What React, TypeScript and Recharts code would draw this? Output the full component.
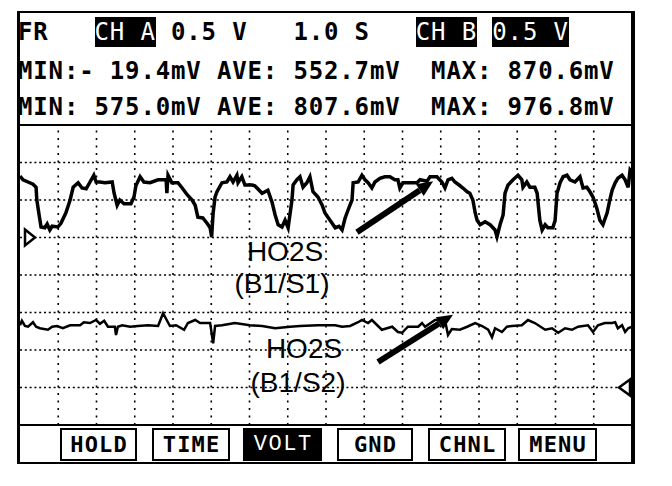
import { LineChart, Line, XAxis, YAxis, ReferenceLine, ReferenceDot } from 'recharts';

// channel A: HO2S (B1/S1), [time s, volts]
const chA: [number, number][] = [
  [0, 0.82], [0.08, 0.77], [0.21, 0.74], [0.34, 0.71], [0.42, 0.67], [0.44, 0.5], [0.5, 0.3], [0.55, 0.14],
  [0.65, 0.13], [0.71, 0.18], [0.78, 0.1], [0.84, 0.15], [0.99, 0.14], [1.07, 0.19], [1.2, 0.33], [1.31, 0.5],
  [1.39, 0.67], [1.52, 0.73], [1.62, 0.66], [1.73, 0.65], [1.83, 0.74], [1.93, 0.83], [1.99, 0.74], [2.09, 0.74],
  [2.22, 0.73], [2.41, 0.74], [2.46, 0.59], [2.54, 0.43], [2.61, 0.5], [2.72, 0.45], [2.9, 0.45], [2.98, 0.54],
  [3.03, 0.69], [3.14, 0.81], [3.24, 0.74], [3.4, 0.73], [3.61, 0.77], [3.82, 0.77], [3.84, 0.59], [3.87, 0.83],
  [3.97, 0.73], [4.13, 0.73], [4.24, 0.66], [4.37, 0.57], [4.5, 0.5], [4.58, 0.43], [4.65, 0.27], [4.78, 0.26],
  [4.89, 0.19], [4.97, 0.13], [5.01, 0.01], [5.05, 0.33], [5.1, 0.54], [5.15, 0.61], [5.28, 0.73], [5.41, 0.74],
  [5.49, 0.81], [5.57, 0.74], [5.67, 0.83], [5.7, 0.73], [5.8, 0.81], [5.88, 0.7], [6.07, 0.7], [6.14, 0.69],
  [6.33, 0.59], [6.48, 0.63], [6.59, 0.47], [6.67, 0.3], [6.75, 0.17], [6.85, 0.14], [6.93, 0.23], [7.01, 0.13],
  [7.11, 0.5], [7.14, 0.7], [7.24, 0.77], [7.32, 0.81], [7.4, 0.67], [7.5, 0.73], [7.58, 0.81], [7.66, 0.61],
  [7.79, 0.54], [7.9, 0.43], [7.97, 0.33], [8.05, 0.27], [8.16, 0.19], [8.24, 0.13], [8.34, 0.15], [8.42, 0.1],
  [8.5, 0.26], [8.58, 0.37], [8.68, 0.5], [8.71, 0.73], [8.84, 0.74], [8.94, 0.83], [9.02, 0.77], [9.1, 0.73],
  [9.2, 0.66], [9.28, 0.74], [9.41, 0.79], [9.54, 0.81], [9.67, 0.81], [9.8, 0.77], [9.88, 0.77], [9.93, 0.66],
  [10.01, 0.73], [10.2, 0.73], [10.38, 0.73], [10.46, 0.77], [10.64, 0.75], [10.72, 0.81], [10.9, 0.81], [11.03, 0.74],
  [11.11, 0.66], [11.19, 0.77], [11.29, 0.79], [11.37, 0.74], [11.48, 0.7], [11.58, 0.66], [11.69, 0.61], [11.76, 0.59],
  [11.84, 0.5], [11.9, 0.33], [11.95, 0.23], [12.03, 0.17], [12.16, 0.21], [12.29, 0.17], [12.42, 0.1], [12.47, 0.01],
  [12.55, 0.17], [12.63, 0.3], [12.68, 0.59], [12.76, 0.7], [12.89, 0.77], [13.02, 0.83], [13.12, 0.77], [13.15, 0.67],
  [13.25, 0.74], [13.33, 0.67], [13.46, 0.67], [13.52, 0.59], [13.59, 0.23], [13.65, 0.1], [13.73, 0.17], [13.8, 0.13],
  [13.93, 0.13], [13.99, 0.23], [14.04, 0.59], [14.12, 0.73], [14.2, 0.81], [14.3, 0.83], [14.38, 0.77], [14.51, 0.74],
  [14.64, 0.81], [14.72, 0.66], [14.82, 0.67], [14.9, 0.61], [14.98, 0.54], [15.08, 0.39], [15.16, 0.23], [15.24, 0.17],
  [15.35, 0.33], [15.42, 0.5], [15.48, 0.63], [15.56, 0.73], [15.63, 0.79], [15.74, 0.83], [15.82, 0.77], [15.9, 0.67],
  [15.95, 0.9], [16, 0.87],
];

// channel B: HO2S (B1/S2), [time s, volts]
const chB: [number, number][] = [
  [0, 0.83], [0.05, 0.89], [0.13, 0.82], [0.21, 0.81], [0.34, 0.87], [0.42, 0.81], [0.52, 0.79], [0.73, 0.77],
  [0.84, 0.81], [0.97, 0.82], [1.12, 0.79], [1.31, 0.83], [1.57, 0.83], [1.67, 0.87], [1.83, 0.86], [1.99, 0.9],
  [2.09, 0.85], [2.2, 0.89], [2.3, 0.81], [2.48, 0.81], [2.51, 0.7], [2.56, 0.81], [2.67, 0.83], [2.88, 0.81],
  [3.08, 0.82], [3.35, 0.83], [3.61, 0.82], [3.74, 0.99], [3.92, 0.82], [4.08, 0.83], [4.29, 0.77], [4.39, 0.86],
  [4.58, 0.9], [4.71, 0.86], [4.97, 0.86], [5.05, 0.59], [5.1, 0.82], [5.28, 0.83], [5.62, 0.86], [6.01, 0.83],
  [6.33, 0.82], [6.67, 0.79], [7.06, 0.81], [7.32, 0.82], [7.79, 0.83], [8.05, 0.83], [8.24, 0.83], [8.42, 0.81],
  [8.63, 0.82], [8.84, 0.87], [8.94, 0.9], [9.1, 0.86], [9.2, 0.9], [9.46, 0.77], [9.73, 0.81], [9.88, 0.74],
  [9.99, 0.73], [10.14, 0.81], [10.41, 0.81], [10.51, 0.86], [10.59, 0.81], [10.85, 0.9], [11.11, 0.9], [11.19, 0.7],
  [11.29, 0.78], [11.5, 0.77], [11.69, 0.81], [11.9, 0.86], [12.08, 0.82], [12.24, 0.77], [12.34, 0.67], [12.42, 0.79],
  [12.6, 0.74], [12.73, 0.81], [12.86, 0.82], [13.12, 0.83], [13.28, 0.9], [13.46, 0.86], [13.73, 0.77], [13.91, 0.79],
  [14.07, 0.73], [14.25, 0.79], [14.43, 0.77], [14.59, 0.81], [14.85, 0.83], [14.98, 0.74], [15.11, 0.83], [15.29, 0.86],
  [15.48, 0.86], [15.56, 0.87], [15.63, 0.79], [15.74, 0.83], [15.82, 0.74], [15.9, 0.79], [16, 0.81],
];

const timeGrid = [1, 2, 3, 4, 5, 6, 7, 8, 9, 10, 11, 12, 13, 14, 15];
const voltGridA = [1, 0.5, 0, -0.5, -1, -1.5, -2];

const header1 = [
  { text: 'FR   ', inv: false },
  { text: 'CH A', inv: true },
  { text: ' 0.5 V   1.0 S   ', inv: false },
  { text: 'CH B', inv: true },
  { text: ' ', inv: false },
  { text: '0.5 V', inv: true },
];
const header2 = 'MIN:- 19.4mV AVE: 552.7mV  MAX: 870.6mV';
const header3 = 'MIN: 575.0mV AVE: 807.6mV  MAX: 976.8mV';

const buttons = ['HOLD', 'TIME', 'VOLT', 'GND', 'CHNL', 'MENU'];
const activeButton = 'VOLT';

// arrow annotations, [t, volts] on their channel axis
const arrowA = [{ x: 8.81, y: 0.07 }, { x: 10.8, y: 0.75 }];
const arrowB = [{ x: 9.36, y: 0.34 }, { x: 11.32, y: 0.97 }];

const dataA = chA.map(([t, v]) => ({ t, v }));
const dataB = chB.map(([t, v]) => ({ t, v }));

const mono = '"DejaVu Sans Mono", monospace';
const sans = '"Liberation Sans", Arial, sans-serif';

const arrowShape = (p: any) => {
  const { x1, y1, x2, y2 } = p;
  const dx = x2 - x1, dy = y2 - y1;
  const len = Math.hypot(dx, dy) || 1;
  const ux = dx / len, uy = dy / len;
  const hl = 16, hw = 7;
  const bx = x2 - ux * hl, by = y2 - uy * hl;
  return (
    <g>
      <line x1={x1} y1={y1} x2={bx} y2={by} stroke="#000" strokeWidth={6} />
      <polygon points={`${x2},${y2} ${bx - uy * hw},${by + ux * hw} ${bx + uy * hw},${by - ux * hw}`} fill="#000" />
    </g>
  );
};

const markerRight = (p: any) => (
  <polygon points={`${p.cx + 5},${p.cy - 8} ${p.cx + 15},${p.cy} ${p.cx + 5},${p.cy + 8}`}
    fill="#fff" stroke="#000" strokeWidth={2.5} />
);
const markerLeft = (p: any) => (
  <polygon points={`${p.cx - 2},${p.cy - 8} ${p.cx - 13},${p.cy} ${p.cx - 2},${p.cy + 8}`}
    fill="#fff" stroke="#000" strokeWidth={2.5} />
);

const rowStyle = (top: number): React.CSSProperties => ({
  position: 'absolute', left: 18, top, fontFamily: mono, fontWeight: 'bold', fontSize: 24,
  letterSpacing: 0.85, lineHeight: '24px', whiteSpace: 'pre', color: '#000',
});

const labelStyle = (cx: number, top: number): React.CSSProperties => ({
  position: 'absolute', left: cx - 80, top, width: 160, textAlign: 'center', fontFamily: sans,
  fontSize: 28, lineHeight: '28px', color: '#000',
});

const btnLeft = [60, 152, 243, 337, 428, 518];
const btnWidth = [77, 78, 79, 76, 78, 79];

export default function App() {
  return (
    <div style={{ position: 'fixed', left: 0, top: 0, width: 672, height: 486, background: '#fff', overflow: 'hidden' }}>
      <div style={{ position: 'absolute', left: 17, top: 11, width: 618, height: 453, boxSizing: 'border-box',
        borderTop: '2px solid #000', borderLeft: '3px solid #000', borderRight: '4px solid #000', borderBottom: '2px solid #000' }} />

      <div style={rowStyle(20)}>
        {header1.map((s, i) => (
          <span key={i} style={s.inv
            ? { background: '#000', color: '#fff', fontWeight: 'normal', padding: '1px 0' }
            : undefined}>{s.text}</span>
        ))}
      </div>
      <div style={rowStyle(59)}>{header2}</div>
      <div style={rowStyle(95)}>{header3}</div>

      <LineChart width={672} height={486} margin={{ top: 125, right: 40, bottom: 61, left: 20 }}
        style={{ position: 'absolute', left: 0, top: 0 }}>
        <XAxis dataKey="t" type="number" domain={[0, 16]} hide allowDataOverflow />
        <YAxis yAxisId="a" type="number" domain={[-2.5, 1.5]} hide allowDataOverflow />
        <YAxis yAxisId="b" type="number" domain={[-0.5, 3.5]} hide allowDataOverflow />
        {timeGrid.map((t) => (
          <ReferenceLine key={`vx${t}`} x={t} yAxisId="a" stroke="#000" strokeWidth={1.6} strokeDasharray="2 5.5" />
        ))}
        {voltGridA.map((v) => (
          <ReferenceLine key={`hy${v}`} y={v} yAxisId="a" stroke="#000" strokeWidth={1.6} strokeDasharray="2 2.8" />
        ))}
        <ReferenceLine y={1.5} yAxisId="a" stroke="#000" strokeWidth={2} ifOverflow="visible" />
        <ReferenceLine y={-2.5} yAxisId="a" stroke="#000" strokeWidth={2} ifOverflow="visible" />
        <Line data={dataA} dataKey="v" yAxisId="a" type="linear" stroke="#000" strokeWidth={3.5}
          dot={false} isAnimationActive={false} />
        <Line data={dataB} dataKey="v" yAxisId="b" type="linear" stroke="#000" strokeWidth={2.5}
          dot={false} isAnimationActive={false} />
        <ReferenceDot x={0} y={0} yAxisId="a" r={1} ifOverflow="visible" shape={markerRight} />
        <ReferenceDot x={16} y={0} yAxisId="b" r={1} ifOverflow="visible" shape={markerLeft} />
        <ReferenceLine segment={arrowA} yAxisId="a" ifOverflow="visible" shape={arrowShape} />
        <ReferenceLine segment={arrowB} yAxisId="b" ifOverflow="visible" shape={arrowShape} />
      </LineChart>

      <div style={labelStyle(285, 238)}>HO2S</div>
      <div style={labelStyle(282, 270)}>(B1/S1)</div>
      <div style={labelStyle(304, 335)}>HO2S</div>
      <div style={labelStyle(298, 369)}>(B1/S2)</div>

      {buttons.map((b, i) => {
        const on = b === activeButton;
        return (
          <div key={b} style={{
            position: 'absolute', left: btnLeft[i], top: 428, width: btnWidth[i], height: 33, boxSizing: 'border-box',
            border: '2px solid #000', background: on ? '#000' : '#fff', color: on ? '#fff' : '#000',
            display: 'flex', alignItems: 'center', justifyContent: 'center',
            fontFamily: on ? '"Liberation Mono", monospace' : mono, fontWeight: on ? 'normal' : 'bold',
            fontSize: 22, letterSpacing: on ? 1.5 : 1.2, paddingLeft: on ? 1.5 : 1.2,
          }}>{b}</div>
        );
      })}
    </div>
  );
}
